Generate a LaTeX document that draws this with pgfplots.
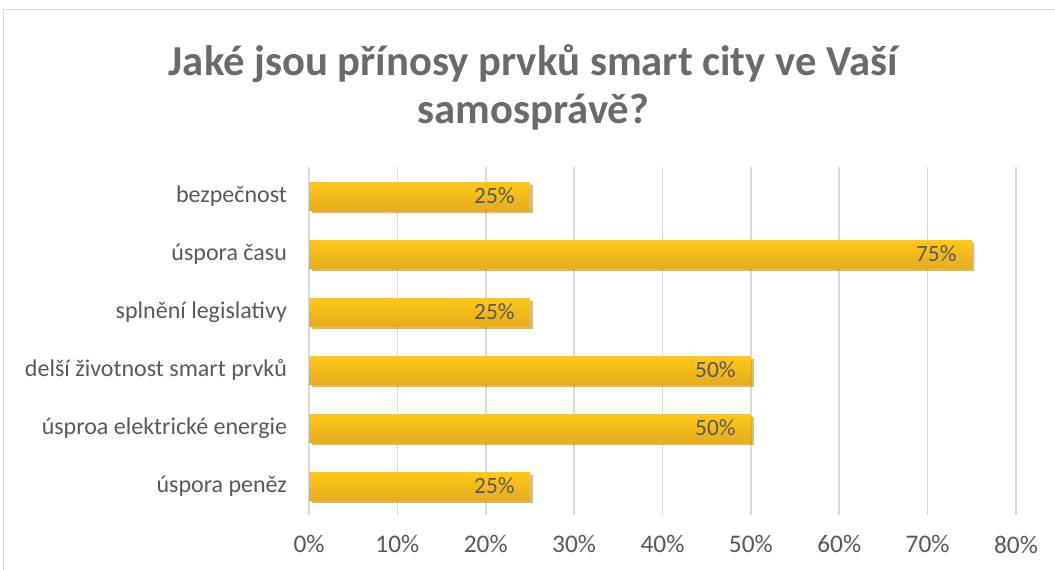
\documentclass[border=0pt]{standalone}
\usepackage{pgfplots}
\pgfplotsset{compat=1.18}
\usepackage{fontspec}
\setmainfont{Carlito}
\usetikzlibrary{shadows}
\definecolor{titlegray}{HTML}{6A6A6A}
\definecolor{txtgray}{HTML}{595959}
\definecolor{gridgray}{HTML}{D9D9D9}
\definecolor{bartop}{HTML}{FFC819}
\definecolor{barbot}{HTML}{E6AC1E}
\pgfplotsset{mybar/.style={xbar, bar width=21pt, bar shift=0pt, draw=none, top color=bartop, bottom color=barbot,
  drop shadow={shadow xshift=2pt, shadow yshift=-2pt, opacity=0.25, fill=black},
  point meta=x,
  nodes near coords={\pgfmathprintnumber{\pgfplotspointmeta}\%},
  every node near coord/.append style={anchor=east, xshift=-8pt, font=\fontsize{17.5}{20}\selectfont, text=txtgray}}}
\begin{document}
\begin{tikzpicture}
\path[use as bounding box] (0,0) rectangle (791.25pt,426.75pt);
\draw[gridgray, line width=1pt] (2.5pt,-1pt) -- (2.5pt,419.6pt) -- (795pt,419.6pt);
\node[font=\fontsize{32}{36}\selectfont\bfseries, text=titlegray, align=center] at (400pt,361pt) {Jaké jsou přínosy prvků smart city ve Vaší\\samosprávě?};
\begin{axis}[
  at={(231.75pt,40.5pt)}, anchor=south west,
  scale only axis, width=530.25pt, height=261pt,
  xmin=0, xmax=80, ymin=-0.5, ymax=5.5,
  xtick={0,10,...,80},
  xticklabels={0\%,10\%,20\%,30\%,40\%,50\%,60\%,70\%,80\%},
  ytick={0,...,5},
  yticklabels={úspora peněz,úsproa elektrické energie,delší životnost smart prvků,splnění legislativy,úspora času,bezpečnost},
  axis line style={draw=none},
  major tick length=0pt,
  xmajorgrids, grid style={gridgray, line width=1.2pt},
  xticklabel style={font=\fontsize{19}{22}\selectfont, text=txtgray, yshift=-12pt},
  yticklabel style={font=\fontsize{18}{21}\selectfont, text=txtgray, xshift=-13pt},
  /pgf/number format/assume math mode=true,
  clip=false,
]
\addplot[mybar] coordinates {(25,0)};
\addplot[mybar] coordinates {(50,1)};
\addplot[mybar] coordinates {(50,2)};
\addplot[mybar] coordinates {(25,3)};
\addplot[mybar] coordinates {(75,4)};
\addplot[mybar] coordinates {(25,5)};
\end{axis}
\end{tikzpicture}
\end{document}
